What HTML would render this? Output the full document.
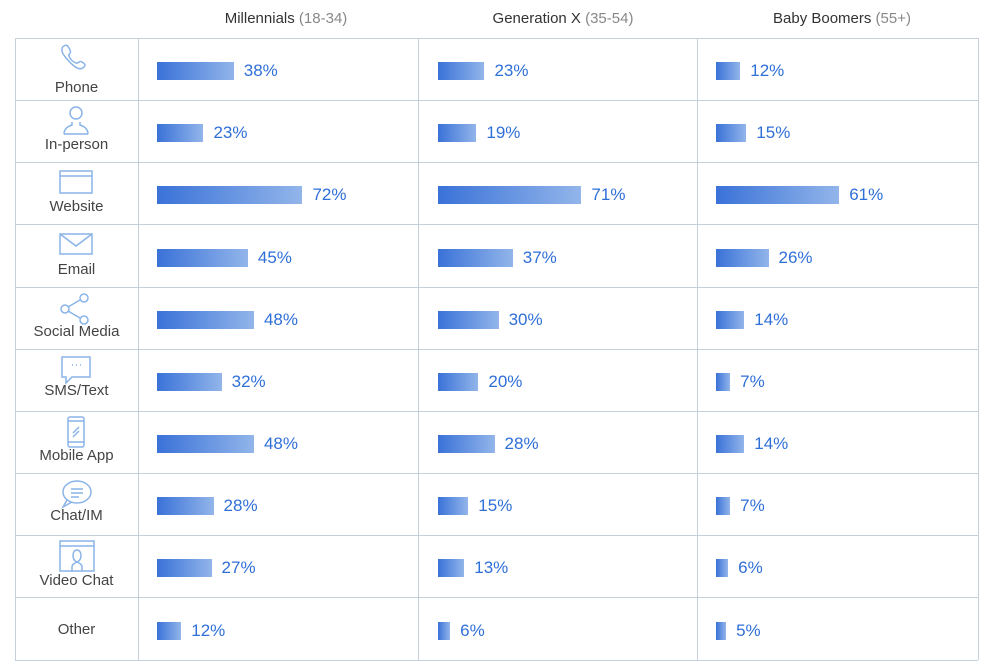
<!DOCTYPE html>
<html><head><meta charset="utf-8"><style>
body{margin:0;width:991px;height:670px;background:#fff;position:relative;overflow:hidden;font-family:"Liberation Sans",sans-serif}
.h{position:absolute;top:10px;font-size:15px;color:#333;text-align:center;width:280px}
.h span{color:#888}
.hl{position:absolute;left:15px;width:963px;height:1px;background:#c5d0da}
.vl{position:absolute;top:38px;height:622px;width:1px;background:#c5d0da}
.bar{position:absolute;height:18px;background:linear-gradient(90deg,#3a72d8,#92b5ea)}
.v{position:absolute;font-size:17px;color:#2f6fd8;line-height:18px}
.lb{position:absolute;left:15px;width:123px;text-align:center;font-size:15px;color:#444}
.ic{position:absolute;left:58px}
</style></head><body>
<div class="h" style="left:146px">Millennials <span>(18-34)</span></div>
<div class="h" style="left:423px">Generation X <span>(35-54)</span></div>
<div class="h" style="left:702px">Baby Boomers <span>(55+)</span></div>
<div id="g"></div>
<script>
var rows=[38,100,162,224,287,349,411,473,535,597,660];
var names=["Phone","In-person","Website","Email","Social Media","SMS/Text","Mobile App","Chat/IM","Video Chat","Other"];
var lby=[79,136,198,261,323,382,447,507,572,621];
var d=[[38,23,12],[23,19,15],[72,71,61],[45,37,26],[48,30,14],[32,20,7],[48,28,14],[28,15,7],[27,13,6],[12,6,5]];
var xs=[157,438,716];
var icons=[
'<path d="M6 4c3-2 4 0 6 4s-2 3-1 6 4 6 7 7 3-3 6-1 4 3 2 5-5 3-10-1S4 12 4 9s0-4 2-5z"/>',
'<circle cx="18" cy="9" r="6"/><path d="M6 30c0-6 5-8 8-9v-3M30 30c0-6-5-8-8-9v-3M6 30h24"/>',
'<rect x="2" y="5" width="32" height="22"/><path d="M2 10h32"/>',
'<rect x="2" y="6" width="32" height="20"/><path d="M2 6l16 12 16-12"/>',
'<circle cx="7" cy="18" r="4"/><circle cx="26" cy="7" r="4"/><circle cx="26" cy="29" r="4"/><path d="M10 16l12-7M10 20l12 7"/>',
'<path d="M4 4h28v20H14l-6 6v-6H4z"/><path d="M14 12h1M18 12h1M22 12h1"/>',
'<rect x="10" y="2" width="16" height="30" rx="2"/><path d="M10 6h16M10 27h16M15 18l6-6M15 22l6-6"/>',
'<ellipse cx="19" cy="15" rx="14" ry="11"/><path d="M9 23l-4 7 9-5M13 12h12M13 16h12M13 20h8"/>',
'<rect x="2" y="2" width="34" height="30"/><path d="M2 7h34M14 32v-4c0-3 3-4 5-5-3-1-4-4-4-7 0-3 2-5 4-5s4 2 4 5c0 3-1 6-4 7 2 1 5 2 5 5v4"/>'
];
var h='';
rows.forEach(function(y){h+='<div class="hl" style="top:'+y+'px"></div>'});
[15,138,418,697,978].forEach(function(x){h+='<div class="vl" style="left:'+x+'px"></div>'});
for(var i=0;i<10;i++){
 var c=Math.round((rows[i]+rows[i+1])/2)+2;
 h+='<div class="lb" style="top:'+lby[i]+'px">'+names[i]+'</div>';
 if(i<9)h+='<svg class="ic" style="top:'+(rows[i]+4)+'px" width="38" height="34" viewBox="0 0 38 34" fill="none" stroke="#8ab4e8" stroke-width="1.5">'+icons[i]+'</svg>';
 for(var j=0;j<3;j++){
  var w=d[i][j]*2.02;
  h+='<div class="bar" style="left:'+xs[j]+'px;top:'+(c-9)+'px;width:'+w+'px"></div>';
  h+='<div class="v" style="left:'+(xs[j]+w+10)+'px;top:'+(c-9)+'px">'+d[i][j]+'%</div>';
 }
}
document.getElementById('g').innerHTML=h;
</script>
</body></html>
